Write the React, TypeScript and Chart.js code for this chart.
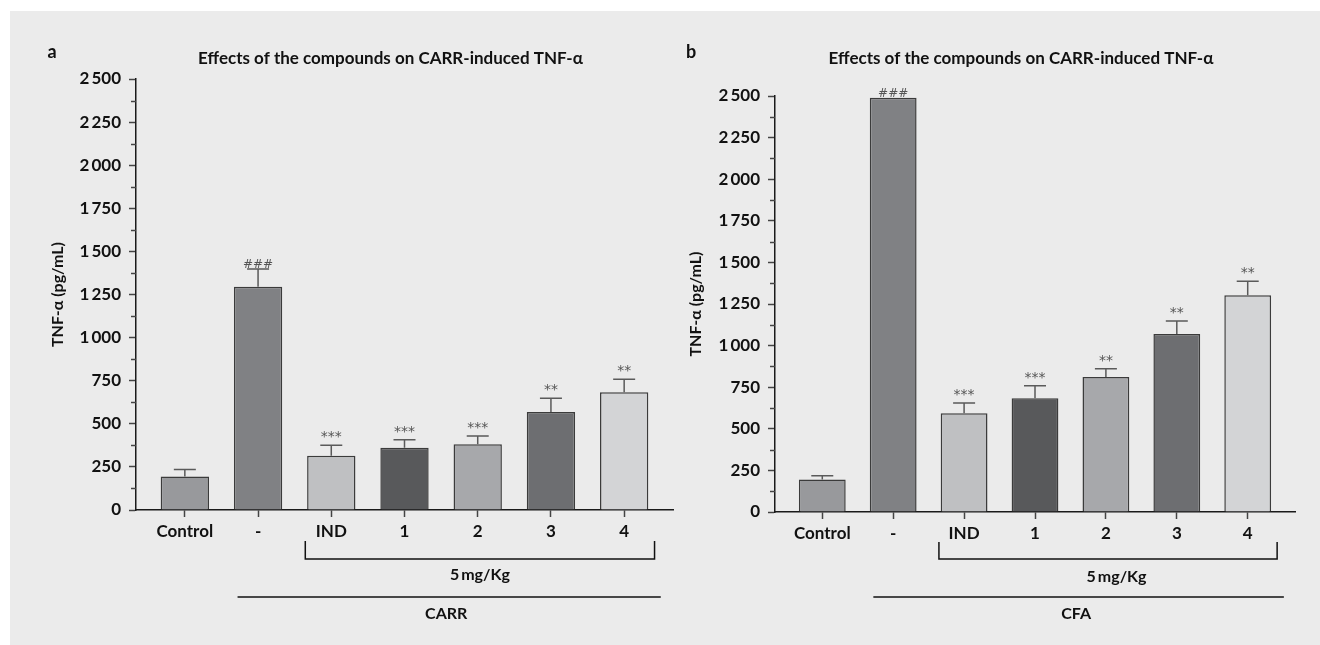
import React, { useEffect, useRef } from 'react';
import { Chart, registerables } from 'chart.js';

Chart.register(...registerables);

// ---------- data ----------
const categories = ['Control', '-', 'IND', '1', '2', '3', '4'];
const barColors = ['#98999c', '#808184', '#bfc0c2', '#58595b', '#a7a8ab', '#6d6e71', '#d3d4d6'];

const carrValues = [195, 1295, 315, 361, 381, 568, 683];
const carrErrors = [40, 103, 60, 47, 48, 80, 75];
const carrMarks = ['', '###', '***', '***', '***', '**', '**'];

const cfaValues = [196, 2490, 593, 683, 811, 1070, 1302];
const cfaErrors = [22, 0, 62, 76, 50, 78, 84];
const cfaMarks = ['', '###', '***', '***', '**', '**', '**'];

const yMax = 2500;
const yStep = 250;
const yMinorStep = 125;

const FONT = 'Lato, "Open Sans", "DejaVu Sans", sans-serif';
const MARK_FONT = '"DejaVu Sans", sans-serif';

function fmt(v: number): string {
  if (v >= 1000) {
    return Math.floor(v / 1000) + '\u2009' + String(v % 1000).padStart(3, '0');
  }
  return String(v);
}

type PanelCfg = {
  letter: string;
  title: string;
  values: number[];
  errors: number[];
  marks: string[];
  group: string;
  dose: string;
  width: number;
  height: number;
  padding: { left: number; right: number; top: number; bottom: number };
  yWidth: number;
  bracket: { from: number; to: number; top: number; bottom: number };
  doseX: number;
  doseDy: number;
  groupLine: { from: number; to: number; dy: number };
  groupX: number;
  groupDy: number;
};

function makeAnnotPlugin(cfg: PanelCfg) {
  return {
    id: 'annot',
    afterDatasetsDraw(chart: any) {
      const ctx = chart.ctx;
      const xs = chart.scales.x;
      const ys = chart.scales.y;
      ctx.save();
      cfg.values.forEach((v, i) => {
        const e = cfg.errors[i];
        const px = xs.getPixelForValue(i);
        const yTop = ys.getPixelForValue(v);
        const yErr = ys.getPixelForValue(v + e);
        if (e > 0) {
          ctx.strokeStyle = '#5a5a5a';
          ctx.lineWidth = 1.5;
          ctx.beginPath();
          ctx.moveTo(px, yTop);
          ctx.lineTo(px, yErr);
          ctx.moveTo(px - 11, yErr);
          ctx.lineTo(px + 11, yErr);
          ctx.stroke();
        }
        const m = cfg.marks[i];
        if (m) {
          ctx.fillStyle = '#555';
          ctx.textAlign = 'center';
          ctx.textBaseline = 'alphabetic';
          if (m.startsWith('#')) {
            ctx.font = `12px ${MARK_FONT}`;
            ctx.fillText(m, px, yErr - 1);
          } else {
            ctx.font = `14px ${MARK_FONT}`;
            ctx.fillText(m, px, yErr - 4);
          }
        }
      });
      ctx.restore();
    },
    afterDraw(chart: any) {
      const ctx = chart.ctx;
      const xs = chart.scales.x;
      const ys = chart.scales.y;
      const area = chart.chartArea;
      ctx.save();
      // minor ticks
      ctx.strokeStyle = '#444';
      ctx.lineWidth = 1.5;
      for (let v = yMinorStep; v < yMax; v += yStep) {
        const py = Math.round(ys.getPixelForValue(v)) + 0.5;
        ctx.beginPath();
        ctx.moveTo(area.left - 5, py);
        ctx.lineTo(area.left, py);
        ctx.stroke();
      }
      // bracket
      const b = cfg.bracket;
      const bl = xs.getPixelForValue(b.from);
      const br = xs.getPixelForValue(b.to);
      ctx.strokeStyle = '#111';
      ctx.lineWidth = 1.5;
      ctx.beginPath();
      ctx.moveTo(bl, area.bottom + b.top);
      ctx.lineTo(bl, area.bottom + b.bottom);
      ctx.lineTo(br, area.bottom + b.bottom);
      ctx.lineTo(br, area.bottom + b.top);
      ctx.stroke();
      // group line
      const g = cfg.groupLine;
      ctx.beginPath();
      ctx.moveTo(xs.getPixelForValue(g.from), area.bottom + g.dy);
      ctx.lineTo(xs.getPixelForValue(g.to), area.bottom + g.dy);
      ctx.stroke();
      // texts
      ctx.fillStyle = '#111';
      ctx.textAlign = 'center';
      ctx.textBaseline = 'middle';
      ctx.font = `bold 16px ${FONT}`;
      ctx.fillText(cfg.dose, xs.getPixelForValue(cfg.doseX), area.bottom + cfg.doseDy);
      ctx.fillText(cfg.group, xs.getPixelForValue(cfg.groupX), area.bottom + cfg.groupDy);
      // title
      ctx.font = `bold 17px ${FONT}`;
      ctx.fillText(cfg.title, (area.left + area.right) / 2 - 14, 59);
      // letter
      ctx.font = `bold 18px ${FONT}`;
      ctx.fillText(cfg.letter, area.left - 84, 52);
      ctx.restore();
    },
  };
}

function Panel({ cfg, left }: { cfg: PanelCfg; left: number }) {
  const ref = useRef<HTMLCanvasElement | null>(null);
  useEffect(() => {
    const canvas = ref.current!;
    const chart = new Chart(canvas, {
      type: 'bar',
      data: {
        datasets: [
          {
            data: cfg.values.map((v, i) => ({ x: i, y: v })) as any,
            backgroundColor: barColors,
            borderColor: '#3b3b3b',
            borderWidth: 1.5,
            barPercentage: 0.66,
            categoryPercentage: 1,
          },
        ],
      },
      options: {
        animation: false,
        responsive: false,
        devicePixelRatio: 1,
        layout: { padding: cfg.padding },
        plugins: { legend: { display: false }, tooltip: { enabled: false } },
        scales: {
          x: {
            type: 'linear',
            offset: false,
            min: -0.667,
            max: 6.667,
            afterBuildTicks: (s: any) => {
              s.ticks = categories.map((_, i) => ({ value: i }));
            },
            afterFit: (s: any) => {
              s.height = 30;
            },
            ticks: {
              callback: (v: any) => categories[v] ?? '',
              font: { family: FONT, size: 17, weight: 'bold' },
              color: '#111',
              padding: 4,
              autoSkip: false,
              maxRotation: 0,
            },
            grid: { offset: false, drawOnChartArea: false, drawTicks: true, tickLength: 7, tickColor: '#444', tickWidth: 1.5 },
            border: { display: true, color: '#1a1a1a', width: 1.5 },
          },
          y: {
            min: 0,
            max: yMax,
            afterFit: (s: any) => {
              s.width = cfg.yWidth;
            },
            ticks: {
              stepSize: yStep,
              callback: (v: any) => fmt(Number(v)),
              font: { family: FONT, size: 17, weight: 'bold' },
              color: '#111',
              padding: 8,
            },
            grid: { drawOnChartArea: false, drawTicks: true, tickLength: 7, tickColor: '#444', tickWidth: 1.5 },
            border: { display: true, color: '#1a1a1a', width: 1.5 },
            title: {
              display: true,
              text: 'TNF-α (pg/mL)',
              font: { family: FONT, size: 16, weight: 'bold' },
              color: '#111',
              padding: { top: 8, bottom: 0 },
            },
          },
        },
      } as any,
      plugins: [makeAnnotPlugin(cfg)],
    });
    return () => chart.destroy();
  }, []);
  return (
    <div style={{ position: 'absolute', left, top: 0, width: cfg.width, height: cfg.height }}>
      <canvas ref={ref} width={cfg.width} height={cfg.height} style={{ display: 'block' }} />
    </div>
  );
}

const panelA: PanelCfg = {
  letter: 'a',
  title: 'Effects of the compounds on CARR-induced TNF-α',
  values: carrValues,
  errors: carrErrors,
  marks: carrMarks,
  group: 'CARR',
  dose: '5\u2009mg/Kg',
  width: 700,
  height: 645,
  padding: { left: 40, right: 27, top: 79, bottom: 105 },
  yWidth: 96,
  bracket: { from: 1.645, to: 6.415, top: 31, bottom: 49 },
  doseX: 4.03,
  doseDy: 65,
  groupLine: { from: 0.72, to: 6.5, dy: 87 },
  groupX: 3.57,
  groupDy: 104,
};

const panelB: PanelCfg = {
  letter: 'b',
  title: 'Effects of the compounds on CARR-induced TNF-α',
  values: cfaValues,
  errors: cfaErrors,
  marks: cfaMarks,
  group: 'CFA',
  dose: '5\u2009mg/Kg',
  width: 660,
  height: 645,
  padding: { left: 18, right: 25, top: 96, bottom: 103 },
  yWidth: 97,
  bracket: { from: 1.645, to: 6.415, top: 30, bottom: 47 },
  doseX: 4.15,
  doseDy: 65,
  groupLine: { from: 0.72, to: 6.51, dy: 85 },
  groupX: 3.58,
  groupDy: 102,
};

export default function App() {
  return (
    <div style={{ position: 'absolute', left: 0, top: 0, width: 1320, height: 645, background: '#ffffff', overflow: 'hidden' }}>
      <div style={{ position: 'absolute', left: 10, top: 11, width: 1310, height: 634, background: '#ebebeb' }} />
      <Panel cfg={panelA} left={0} />
      <Panel cfg={panelB} left={660} />
    </div>
  );
}
